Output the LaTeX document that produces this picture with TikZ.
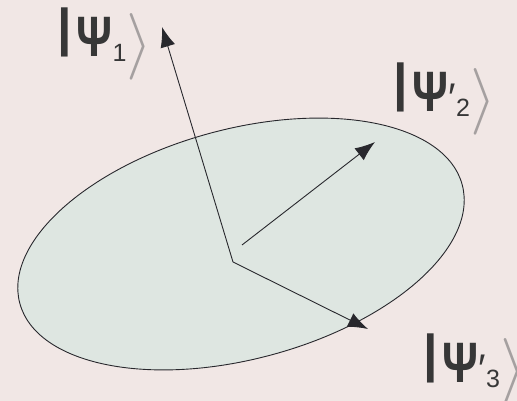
\documentclass[tikz,border=0pt]{standalone}
\usepackage{fontspec}
\setmainfont{Liberation Sans}
\usetikzlibrary{arrows.meta}
\definecolor{bgc}{RGB}{241,231,229}
\definecolor{ellc}{RGB}{222,230,225}
\definecolor{inkc}{RGB}{40,40,45}
\definecolor{txtc}{RGB}{55,55,55}
\definecolor{angc}{RGB}{165,160,160}
\newcommand{\ketlab}[2]{{\raisebox{11pt}{\fontsize{52}{52}\selectfont\textbf{|}}\hspace{5pt}\scalebox{0.78}[1]{\fontsize{57}{57}\selectfont\bfseries Ψ}#1\raisebox{-5pt}{\fontsize{25}{25}\selectfont #2}\hspace{0pt}\raisebox{-6pt}{\resizebox{!}{50pt}{\color{angc}$\rangle$}}}}
\tikzset{
  vec/.style={draw=inkc, line width=0.9pt, -{Latex[length=20pt,width=15pt]}},
  lab/.style={text=txtc, inner sep=0pt, anchor=base west}
}
\begin{document}
\begin{tikzpicture}[x=1pt,y=-1pt]
\fill[bgc] (0,0) rectangle (517,401);
\useasboundingbox (0,0) rectangle (517,401);
\draw[fill=ellc, draw=inkc, line width=0.9pt, rotate around={15:(241,244)}] (241,244) ellipse [x radius=229, y radius=115];
\coordinate (O) at (233,262);
\coordinate (S2) at (242,245);
\coordinate (T1) at (162,27);
\coordinate (T2) at (375,142);
\coordinate (T3) at (368,329);
\draw[vec] (O) -- (T1);
\draw[vec] (S2) -- (T2);
\draw[vec] (O) -- (T3);
\node[lab] (L1) at (57,57) {\ketlab{}{1}};
\node[lab] (L2) at (393,112) {\ketlab{\fontsize{40}{40}\selectfont ′}{2}};
\node[lab] (L3) at (423,382) {\ketlab{\fontsize{40}{40}\selectfont ′}{3}};
\end{tikzpicture}
\end{document}
